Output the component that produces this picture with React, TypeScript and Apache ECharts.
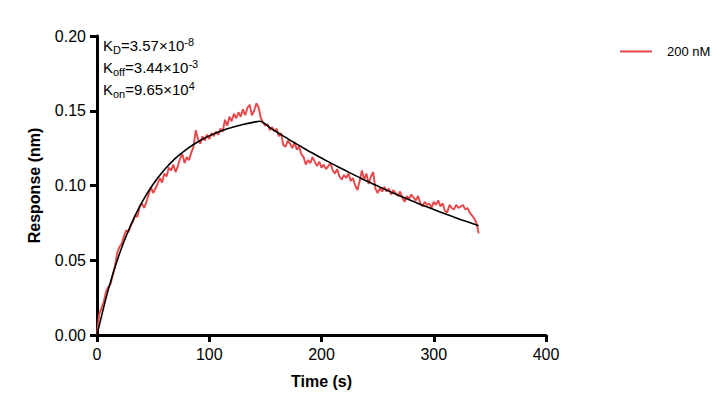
import React, { useEffect, useRef } from "react";
import * as echarts from "echarts";

// Measured response (nm), one reading every 2 s from t = 0 to 340 s
const sampleStep = 2;
const response200nM = [
  0.000, 0.014, 0.018, 0.022, 0.029, 0.032, 0.034, 0.040, 0.046, 0.055,
  0.059, 0.061, 0.066, 0.070, 0.069, 0.073, 0.076, 0.080, 0.079, 0.086,
  0.088, 0.085, 0.089, 0.094, 0.099, 0.095, 0.098, 0.101, 0.105, 0.102,
  0.108, 0.106, 0.112, 0.110, 0.114, 0.109, 0.113, 0.118, 0.121, 0.115,
  0.119, 0.117, 0.122, 0.126, 0.137, 0.131, 0.128, 0.133, 0.130, 0.134,
  0.131, 0.135, 0.133, 0.136, 0.134, 0.138, 0.136, 0.144, 0.140, 0.146,
  0.143, 0.148, 0.145, 0.149, 0.146, 0.151, 0.147, 0.152, 0.154, 0.147,
  0.150, 0.155, 0.152, 0.145, 0.142, 0.140, 0.141, 0.137, 0.139, 0.136,
  0.138, 0.133, 0.135, 0.127, 0.126, 0.130, 0.128, 0.125, 0.129, 0.124,
  0.126, 0.121, 0.119, 0.114, 0.117, 0.115, 0.119, 0.116, 0.113, 0.116,
  0.112, 0.114, 0.111, 0.113, 0.115, 0.110, 0.108, 0.111, 0.106, 0.104,
  0.107, 0.105, 0.108, 0.103, 0.105, 0.100, 0.097, 0.103, 0.110, 0.104,
  0.108, 0.101, 0.106, 0.109, 0.098, 0.095, 0.098, 0.096, 0.099, 0.096,
  0.098, 0.094, 0.097, 0.095, 0.093, 0.096, 0.092, 0.089, 0.093, 0.091,
  0.094, 0.092, 0.090, 0.093, 0.088, 0.086, 0.089, 0.087, 0.088, 0.085,
  0.089, 0.087, 0.090, 0.086, 0.088, 0.083, 0.082, 0.087, 0.085, 0.084,
  0.087, 0.085, 0.086, 0.087, 0.084, 0.085, 0.082, 0.080, 0.078, 0.075,
  0.068,
];

// Global 1:1 fit curve (association to 145 s, then dissociation)
const fitTime = [
  0, 10, 20, 30, 40, 50, 60, 70, 80, 90, 100, 110, 120, 130, 140, 145,
  155, 165, 175, 185, 195, 205, 215, 225, 235, 245, 255, 265, 275, 285,
  295, 305, 315, 325, 335, 340,
];
const fitResponse = [
  0.0, 0.0302, 0.0543, 0.0734, 0.0887, 0.1008, 0.1105, 0.1183, 0.1244,
  0.1293, 0.1332, 0.1363, 0.1388, 0.1408, 0.1424, 0.143,
  0.1382, 0.1335, 0.129, 0.1246, 0.1204, 0.1163, 0.1124, 0.1086, 0.1049,
  0.1014, 0.0979, 0.0946, 0.0914, 0.0883, 0.0854, 0.0825, 0.0797, 0.077,
  0.0744, 0.0731,
];

const xTicks = { min: 0, max: 400, interval: 100 };
const yTicks = { min: 0, max: 0.2, interval: 0.05 };
const seriesName = "200 nM";

const FONT = "Arial, 'Liberation Sans', Helvetica, sans-serif";

export default function App() {
  const ref = useRef<HTMLDivElement>(null);

  useEffect(() => {
    if (!ref.current) return;
    const chart = echarts.init(ref.current, undefined, { renderer: "svg" });

    const measured = response200nM.map((v, i) => [i * sampleStep, v]);
    const fit = fitTime.map((t, i) => [t, fitResponse[i]]);

    const axisLine = { show: true, lineStyle: { color: "#000", width: 3 } };
    const axisTick = { show: true, length: 7, lineStyle: { color: "#000", width: 3 } };

    const kRich = {
      k: { fontSize: 15, fontFamily: FONT, color: "#000" },
      sub: { fontSize: 11, fontFamily: FONT, color: "#000", padding: [8, 0, 0, 0] },
      sup: { fontSize: 11, fontFamily: FONT, color: "#000", padding: [0, 0, 8, 0] },
    };

    chart.setOption({
      animation: false,
      backgroundColor: "#fff",
      grid: { left: 97, right: 182, top: 36, bottom: 77, containLabel: false },
      legend: {
        data: [{ name: seriesName, icon: "rect" }],
        left: 615,
        top: 40,
        itemWidth: 32,
        itemHeight: 2,
        textStyle: { fontSize: 13, fontFamily: FONT, color: "#000", padding: [0, 0, 0, 10] },
      },
      xAxis: {
        type: "value",
        ...xTicks,
        name: "Time (s)",
        nameLocation: "middle",
        nameGap: 38,
        nameTextStyle: { fontSize: 16, fontWeight: "bold", fontFamily: FONT, color: "#000" },
        axisLine,
        axisTick,
        splitLine: { show: false },
        axisLabel: { fontSize: 16, fontFamily: FONT, color: "#000", margin: 11 },
      },
      yAxis: {
        type: "value",
        ...yTicks,
        name: "Response (nm)",
        nameLocation: "middle",
        nameGap: 55,
        nameTextStyle: { fontSize: 16, fontWeight: "bold", fontFamily: FONT, color: "#000" },
        axisLine,
        axisTick,
        splitLine: { show: false },
        axisLabel: {
          fontSize: 16,
          fontFamily: FONT,
          color: "#000",
          margin: 11,
          formatter: (v: number) => v.toFixed(2),
        },
      },
      graphic: [
        {
          type: "text",
          left: 103,
          top: 36,
          style: {
            text: "{k|K}{sub|D}{k|=3.57×10}{sup|-8}",
            rich: kRich,
          },
        },
        {
          type: "text",
          left: 103,
          top: 58,
          style: {
            text: "{k|K}{sub|off}{k|=3.44×10}{sup|-3}",
            rich: kRich,
          },
        },
        {
          type: "text",
          left: 103,
          top: 80,
          style: {
            text: "{k|K}{sub|on}{k|=9.65×10}{sup|4}",
            rich: kRich,
          },
        },
      ],
      series: [
        {
          name: seriesName,
          type: "line",
          data: measured,
          showSymbol: false,
          lineStyle: { color: "#E8474A", width: 1.9 },
          itemStyle: { color: "#E8474A" },
          z: 2,
        },
        {
          name: "fit",
          type: "line",
          data: fit,
          smooth: 0.3,
          showSymbol: false,
          lineStyle: { color: "#000", width: 1.6 },
          itemStyle: { color: "#000" },
          z: 3,
        },
      ],
    });

    return () => chart.dispose();
  }, []);

  return (
    <div
      ref={ref}
      style={{ position: "fixed", left: 0, top: 0, width: 728, height: 412 }}
    />
  );
}
